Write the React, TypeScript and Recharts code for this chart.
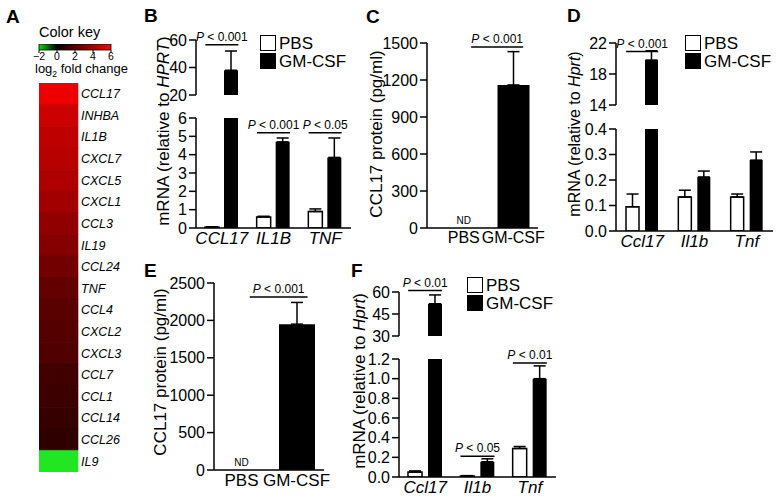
import React from "react";
import { BarChart, Bar, XAxis, YAxis, ErrorBar, Cell } from "recharts";

const FONT = '"Liberation Sans", Arial, Helvetica, sans-serif';

// ---- panel A: heatmap of log2 fold change ----
const GENES = ["CCL17", "INHBA", "IL1B", "CXCL7", "CXCL5", "CXCL1", "CCL3", "IL19", "CCL24", "TNF", "CCL4", "CXCL2", "CXCL3", "CCL7", "CCL1", "CCL14", "CCL26", "IL9"];
const LOG2FC = [5.6, 4.8, 4.5, 4.3, 4.1, 3.8, 3.4, 3.1, 2.7, 2.3, 2.1, 2.0, 1.9, 1.5, 1.4, 1.3, 1.1, -1.8];
const KEY_TICKS = [-2, 0, 2, 4, 6];

// ---- panel B: human mRNA ----
const B_CATS = ["CCL17", "IL1B", "TNF"];
const B_PBS = [0.05, 0.6, 0.9];
const B_PBS_SEM = [0.01, 0.04, 0.14];
const B_GM = [38, 4.7, 3.85];
const B_GM_SEM = [14, 0.21, 1.06];
const B_P = ["0.001", "0.001", "0.05"];
const B_P_LEVEL = [56.5, 5.2, 5.2];

// ---- panel C: human CCL17 protein ----
const C_CATS = ["PBS", "GM-CSF"];
const C_VAL = [null, 1160];
const C_SEM = [0, 270];
const C_P_LEVEL = 1468;

// ---- panel D: mouse mRNA ----
const D_CATS = ["Ccl17", "Il1b", "Tnf"];
const D_PBS = [0.095, 0.133, 0.133];
const D_PBS_SEM = [0.05, 0.027, 0.012];
const D_GM = [19.8, 0.212, 0.278];
const D_GM_SEM = [1.2, 0.023, 0.032];
const D_P_LEVEL = 20.9;

// ---- panel E: mouse CCL17 protein ----
const E_CATS = ["PBS", "GM-CSF"];
const E_VAL = [null, 1950];
const E_SEM = [0, 290];
const E_P_LEVEL = 2313;

// ---- panel F: mouse mRNA (in vivo) ----
const F_CATS = ["Ccl17", "Il1b", "Tnf"];
const F_PBS = [0.05, 0.01, 0.29];
const F_PBS_SEM = [0.012, 0.004, 0.02];
const F_GM = [52, 0.155, 1.0];
const F_GM_SEM = [6, 0.03, 0.13];
const F_P = ["0.01", "0.05", "0.01"];
const F_P_LEVEL = [61, 0.21, 1.16];

type Seg = { y0: number; y1: number; d0: number; d1: number; ticks: number[]; dec: number };
type Geo = { x0: number; x1: number; xPad: number; n: number; barSize: number; barGap: number };

// layout (page px) of each axis segment
const B_GEO: Geo = { x0: 196, x1: 351, xPad: 0, n: 3, barSize: 14, barGap: 5 };
const B_TOP: Seg = { y0: 40, y1: 95, d0: 20, d1: 60, ticks: [20, 40, 60], dec: 0 };
const B_BOT: Seg = { y0: 118, y1: 228, d0: 0, d1: 6, ticks: [0, 1, 2, 3, 4, 5, 6], dec: 0 };
const C_GEO: Geo = { x0: 427, x1: 538, xPad: 12, n: 2, barSize: 32, barGap: 0 };
const C_SEG: Seg = { y0: 43, y1: 228, d0: 0, d1: 1500, ticks: [0, 300, 600, 900, 1200, 1500], dec: 0 };
const D_GEO: Geo = { x0: 616, x1: 773, xPad: 0, n: 3, barSize: 13, barGap: 6 };
const D_TOP: Seg = { y0: 43, y1: 105, d0: 14, d1: 22, ticks: [14, 18, 22], dec: 0 };
const D_BOT: Seg = { y0: 129, y1: 231, d0: 0, d1: 0.4, ticks: [0, 0.1, 0.2, 0.3, 0.4], dec: 1 };
const E_GEO: Geo = { x0: 214, x1: 324, xPad: 0, n: 2, barSize: 36, barGap: 0 };
const E_SEG: Seg = { y0: 283, y1: 470, d0: 0, d1: 2500, ticks: [0, 500, 1000, 1500, 2000, 2500], dec: 0 };
const F_GEO: Geo = { x0: 399, x1: 556, xPad: 0, n: 3, barSize: 14, barGap: 6 };
const F_TOP: Seg = { y0: 292, y1: 336, d0: 30, d1: 60, ticks: [30, 45, 60], dec: 0 };
const F_BOT: Seg = { y0: 359, y1: 477, d0: 0, d1: 1.2, ticks: [0, 0.2, 0.4, 0.6, 0.8, 1.0, 1.2], dec: 1 };

const yOf = (s: Seg, v: number) => s.y1 - ((v - s.d0) / (s.d1 - s.d0)) * (s.y1 - s.y0);
const cxOf = (g: Geo, i: number) => g.x0 + g.xPad + ((g.x1 - g.x0 - g.xPad) / g.n) * (i + 0.5);
const bandOf = (g: Geo) => (g.x1 - g.x0 - g.xPad) / g.n;

function pairRows(cats: string[], pbs: number[], pbsSem: number[], gm: number[], gmSem: number[], s: Seg) {
  return cats.map((cat, i) => ({
    cat,
    pbs: pbs[i] > s.d0 ? pbs[i] : null,
    pbsErr: pbs[i] > s.d0 && pbs[i] <= s.d1 ? [0, pbsSem[i]] : null,
    gm: gm[i] > s.d0 ? gm[i] : null,
    gmErr: gm[i] > s.d0 && gm[i] <= s.d1 ? [0, gmSem[i]] : null,
  }));
}

function singleRows(cats: string[], vals: (number | null)[], sems: number[]) {
  return cats.map((cat, i) => ({ cat, val: vals[i], err: vals[i] != null ? [0, sems[i]] : null }));
}

function heatColor(v: number) {
  if (v >= 0) return `rgb(${Math.round((255 * Math.min(v, 6)) / 6)},0,0)`;
  const g = Math.round((255 * Math.min(-v, 2)) / 2);
  return `rgb(${Math.round(g * 0.15)},${g},${Math.round(g * 0.15)})`;
}

const AXIS = { stroke: "#000", strokeWidth: 1.5 };

function Block({ geo, seg, rows, showX, italicX, single, xFont = 17 }: { geo: Geo; seg: Seg; rows: any[]; showX: boolean; italicX?: boolean; single?: boolean; xFont?: number }) {
  const PADL = 56, PADR = 24, PADT = 10;
  const PADB = showX ? 26 : 12;
  const width = geo.x1 - geo.x0 + PADL + PADR;
  const height = seg.y1 - seg.y0 + PADT + PADB;
  const bars = single
    ? [
        <Bar key="v" dataKey="val" fill="#000" isAnimationActive={false}>
          <ErrorBar dataKey="err" direction="y" width={6} stroke="#000" strokeWidth={1.5} />
        </Bar>,
      ]
    : [
        <Bar key="p" dataKey="pbs" fill="#fff" stroke="#000" strokeWidth={1.5} isAnimationActive={false}>
          <ErrorBar dataKey="pbsErr" direction="y" width={6} stroke="#000" strokeWidth={1.5} />
        </Bar>,
        <Bar key="g" dataKey="gm" fill="#000" isAnimationActive={false}>
          <ErrorBar dataKey="gmErr" direction="y" width={6} stroke="#000" strokeWidth={1.5} />
        </Bar>,
      ];
  return (
    <div style={{ position: "absolute", left: geo.x0 - PADL, top: seg.y0 - PADT }}>
      <BarChart
        width={width}
        height={height}
        data={rows}
        margin={{ top: PADT, right: PADR, bottom: showX ? 0 : PADB, left: 0 }}
        barSize={geo.barSize}
        barGap={geo.barGap}
      >
        <XAxis
          dataKey="cat"
          hide={!showX}
          height={PADB}
          axisLine={AXIS}
          tickLine={false}
          tickSize={0}
          tickMargin={4}
          interval={0}
          padding={{ left: geo.xPad, right: 0 }}
          tick={{ fill: "#000", fontSize: xFont, fontStyle: italicX ? "italic" : "normal" }}
        />
        <YAxis
          type="number"
          width={PADL}
          domain={[seg.d0, seg.d1]}
          ticks={seg.ticks}
          allowDataOverflow
          interval={0}
          tickFormatter={(v: number) => v.toFixed(seg.dec)}
          axisLine={AXIS}
          tickLine={AXIS}
          tickSize={7}
          tickMargin={2}
          tick={{ fill: "#000", fontSize: 16 }}
        />
        {bars}
      </BarChart>
    </div>
  );
}

function PMark({ xa, xb, y, text }: { xa: number; xb: number; y: number; text: string }) {
  return (
    <g>
      <line x1={xa} x2={xb} y1={y} y2={y} stroke="#000" strokeWidth={1.5} />
      <text x={(xa + xb) / 2} y={y - 4} textAnchor="middle" fontSize={12} fill="#000">
        <tspan fontStyle="italic">P</tspan> &lt; {text}
      </text>
    </g>
  );
}

function pairSpan(g: Geo, i: number) {
  const c = cxOf(g, i);
  return [c - g.barGap / 2 - g.barSize, c + g.barGap / 2 + g.barSize];
}

function Legend2({ x, y, gap }: { x: number; y: number; gap: number }) {
  const box = { position: "absolute" as const, left: x, width: 14, height: 14, border: "1.5px solid #000" };
  const txt = { position: "absolute" as const, left: x + 19, fontSize: 17, lineHeight: "17px", whiteSpace: "nowrap" as const };
  return (
    <>
      <div style={{ ...box, top: y, background: "#fff" }} />
      <div style={{ ...txt, top: y }}>PBS</div>
      <div style={{ ...box, top: y + gap, background: "#000" }} />
      <div style={{ ...txt, top: y + gap }}>GM-CSF</div>
    </>
  );
}

function VLabel({ cx, cy, size, children }: { cx: number; cy: number; size: number; children: React.ReactNode }) {
  return (
    <div
      style={{
        position: "absolute",
        left: cx,
        top: cy,
        transform: "translate(-50%, -50%) rotate(-90deg)",
        whiteSpace: "nowrap",
        fontSize: size,
        lineHeight: 1,
      }}
    >
      {children}
    </div>
  );
}

const LETTER = { position: "absolute" as const, fontSize: 19, fontWeight: 900, lineHeight: 1 };

export default function App() {
  const heatRows = GENES.map((gene, i) => ({ gene, fc: LOG2FC[i], one: 1 }));
  const keyRows = [{ k: "key", span: [KEY_TICKS[0], KEY_TICKS[KEY_TICKS.length - 1]] }];

  const bTop = pairRows(B_CATS, B_PBS, B_PBS_SEM, B_GM, B_GM_SEM, B_TOP);
  const bBot = pairRows(B_CATS, B_PBS, B_PBS_SEM, B_GM, B_GM_SEM, B_BOT);
  const dTop = pairRows(D_CATS, D_PBS, D_PBS_SEM, D_GM, D_GM_SEM, D_TOP);
  const dBot = pairRows(D_CATS, D_PBS, D_PBS_SEM, D_GM, D_GM_SEM, D_BOT);
  const fTop = pairRows(F_CATS, F_PBS, F_PBS_SEM, F_GM, F_GM_SEM, F_TOP);
  const fBot = pairRows(F_CATS, F_PBS, F_PBS_SEM, F_GM, F_GM_SEM, F_BOT);
  const cRows = singleRows(C_CATS, C_VAL, C_SEM);
  const eRows = singleRows(E_CATS, E_VAL, E_SEM);

  const bSegs = [B_TOP, B_BOT, B_BOT];
  const fSegs = [F_TOP, F_BOT, F_BOT];

  return (
    <div style={{ position: "absolute", left: 0, top: 0, width: 778, height: 499, background: "#fff", fontFamily: FONT, color: "#000", overflow: "hidden" }}>
      {/* A */}
      <div style={{ ...LETTER, left: 6, top: 7 }}>A</div>
      <div style={{ position: "absolute", left: 39, top: 24, fontSize: 14.5, whiteSpace: "nowrap" }}>Color key</div>
      <div style={{ position: "absolute", left: 31, top: 44 }}>
        <BarChart layout="vertical" width={88} height={19} data={keyRows} margin={{ top: 0, right: 8, bottom: 0, left: 8 }} barCategoryGap={0}>
          <defs>
            <linearGradient id="keyGrad" x1="0" x2="1" y1="0" y2="0">
              <stop offset="0" stopColor="#19d219" />
              <stop offset="0.25" stopColor="#000" />
              <stop offset="1" stopColor="#ff0000" />
            </linearGradient>
          </defs>
          <XAxis
            type="number"
            domain={[KEY_TICKS[0], KEY_TICKS[KEY_TICKS.length - 1]]}
            ticks={KEY_TICKS}
            height={13}
            axisLine={false}
            tickLine={{ stroke: "#000" }}
            tickSize={3}
            tickMargin={0}
            interval={0}
            tickFormatter={(v: number) => (v < 0 ? `\u2212${-v}` : `${v}`)}
            tick={{ fill: "#000", fontSize: 10.5 }}
          />
          <YAxis type="category" dataKey="k" hide />
          <Bar dataKey="span" fill="url(#keyGrad)" stroke="#000" strokeWidth={0.8} isAnimationActive={false} />
        </BarChart>
      </div>
      <div style={{ position: "absolute", left: 35, top: 62, fontSize: 13, whiteSpace: "nowrap", lineHeight: "14px" }}>
        log<sub style={{ fontSize: 8.5 }}>2</sub> fold change
      </div>
      <div style={{ position: "absolute", left: 39, top: 83 }}>
        <BarChart layout="vertical" width={95} height={389} data={heatRows} margin={{ top: 0, right: 0, bottom: 0, left: 0 }} barCategoryGap={0}>
          <XAxis type="number" hide domain={[0, 1]} />
          <YAxis
            type="category"
            dataKey="gene"
            orientation="right"
            width={56}
            axisLine={false}
            tickLine={false}
            tickSize={0}
            tickMargin={3}
            interval={0}
            tick={{ fill: "#000", fontSize: 12.5, fontStyle: "italic" }}
          />
          <Bar dataKey="one" isAnimationActive={false}>
            {heatRows.map((r, i) => (
              <Cell key={i} fill={heatColor(r.fc)} stroke={heatColor(r.fc)} strokeWidth={0.6} />
            ))}
          </Bar>
        </BarChart>
      </div>

      {/* B */}
      <div style={{ ...LETTER, left: 144, top: 6 }}>B</div>
      <Block geo={B_GEO} seg={B_TOP} rows={bTop} showX={false} />
      <Block geo={B_GEO} seg={B_BOT} rows={bBot} showX italicX />
      <VLabel cx={163} cy={131} size={17}>
        mRNA (relative to <i>HPRT</i>)
      </VLabel>
      <Legend2 x={260} y={35} gap={18} />

      {/* C */}
      <div style={{ ...LETTER, left: 366, top: 7 }}>C</div>
      <Block geo={C_GEO} seg={C_SEG} rows={cRows} showX single xFont={16} />
      <VLabel cx={376} cy={134} size={17}>
        CCL17 protein (pg/ml)
      </VLabel>

      {/* D */}
      <div style={{ ...LETTER, left: 567, top: 6 }}>D</div>
      <Block geo={D_GEO} seg={D_TOP} rows={dTop} showX={false} />
      <Block geo={D_GEO} seg={D_BOT} rows={dBot} showX italicX />
      <VLabel cx={575} cy={134} size={16}>
        mRNA (relative to <i>Hprt</i>)
      </VLabel>
      <Legend2 x={685} y={35} gap={18} />

      {/* E */}
      <div style={{ ...LETTER, left: 144, top: 261 }}>E</div>
      <Block geo={E_GEO} seg={E_SEG} rows={eRows} showX single />
      <VLabel cx={160} cy={372} size={17}>
        CCL17 protein (pg/ml)
      </VLabel>

      {/* F */}
      <div style={{ ...LETTER, left: 351, top: 261 }}>F</div>
      <Block geo={F_GEO} seg={F_TOP} rows={fTop} showX={false} />
      <Block geo={F_GEO} seg={F_BOT} rows={fBot} showX italicX />
      <VLabel cx={359} cy={381} size={17}>
        mRNA (relative to <i>Hprt</i>)
      </VLabel>
      <Legend2 x={467} y={277} gap={18} />

      {/* significance marks and ND labels */}
      <svg width={778} height={499} style={{ position: "absolute", left: 0, top: 0, pointerEvents: "none", fontFamily: FONT }}>
        {B_P.map((t, i) => {
          const [xa, xb] = pairSpan(B_GEO, i);
          return <PMark key={`b${i}`} xa={xa} xb={xb} y={yOf(bSegs[i], B_P_LEVEL[i])} text={t} />;
        })}
        <PMark
          xa={cxOf(C_GEO, 0) + 0.15 * bandOf(C_GEO)}
          xb={cxOf(C_GEO, 1) + 0.2 * bandOf(C_GEO)}
          y={yOf(C_SEG, C_P_LEVEL)}
          text="0.001"
        />
        <text x={cxOf(C_GEO, 0)} y={yOf(C_SEG, 0) - 4} textAnchor="middle" fontSize={10}>ND</text>
        {(() => {
          const [xa, xb] = pairSpan(D_GEO, 0);
          return <PMark xa={xa} xb={xb} y={yOf(D_TOP, D_P_LEVEL)} text="0.001" />;
        })()}
        <PMark
          xa={cxOf(E_GEO, 0) + 0.15 * bandOf(E_GEO)}
          xb={cxOf(E_GEO, 1) + 0.2 * bandOf(E_GEO)}
          y={yOf(E_SEG, E_P_LEVEL)}
          text="0.001"
        />
        <text x={cxOf(E_GEO, 0)} y={yOf(E_SEG, 0) - 4} textAnchor="middle" fontSize={10}>ND</text>
        {F_P.map((t, i) => {
          const [xa, xb] = pairSpan(F_GEO, i);
          return <PMark key={`f${i}`} xa={xa} xb={xb} y={yOf(fSegs[i], F_P_LEVEL[i])} text={t} />;
        })}
      </svg>
    </div>
  );
}
